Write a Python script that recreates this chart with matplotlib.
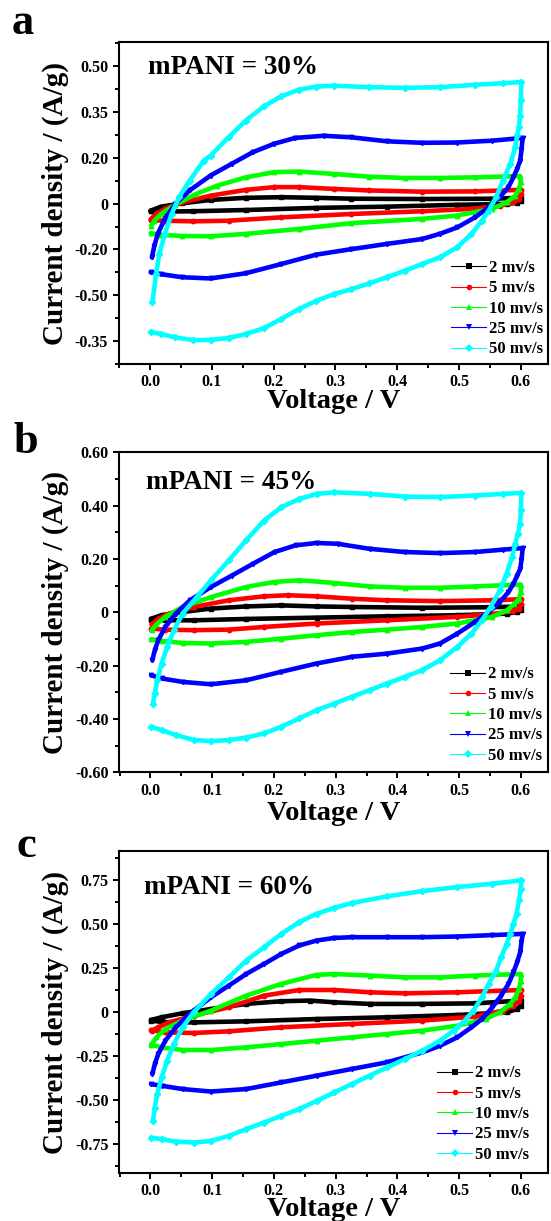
import matplotlib
matplotlib.use("Agg")
import matplotlib.pyplot as plt
from matplotlib.lines import Line2D
from matplotlib.ticker import FixedLocator, MultipleLocator

plt.rcParams['font.family'] = ['Liberation Serif', 'DejaVu Serif']
plt.rcParams['font.weight'] = 'bold'

# ---------------- data ----------------
rates = ['2 mv/s', '5 mv/s', '10 mv/s', '25 mv/s', '50 mv/s']
colors = ['#000000', '#FF0000', '#00FF00', '#0000FF', '#00FFFF']
markers = ['s', 'o', '^', 'v', 'D']
panel_letters = ['a', 'b', 'c']
panel_titles = ['mPANI = 30%', 'mPANI = 45%', 'mPANI = 60%']
x_ticks = [0.0, 0.1, 0.2, 0.3, 0.4, 0.5, 0.6]
x_ticklabels = ['0.0', '0.1', '0.2', '0.3', '0.4', '0.5', '0.6']

a_yticks = [0.45, 0.30, 0.15, 0.0, -0.15, -0.30, -0.45]
a_yticklabels = ['0.50', '0.35', '0.20', '0', '-0.20', '-0.50', '-0.35']
b_yticks = [0.6, 0.4, 0.2, 0.0, -0.2, -0.4, -0.6]
b_yticklabels = ['0.60', '0.40', '0.20', '0', '-0.20', '-0.40', '-0.60']
c_yticks = [0.75, 0.5, 0.25, 0.0, -0.25, -0.5, -0.75]
c_yticklabels = ['0.75', '0.50', '0.25', '0', '-0.25', '-0.50', '-0.75']

# panel a (mPANI = 30%)
a_v_2 = [0.001, 0.018, 0.052, 0.098, 0.155, 0.212, 0.269, 0.326, 0.44, 0.554, 0.6,
         0.6, 0.594, 0.577, 0.497, 0.383, 0.269, 0.155, 0.07, 0.024, 0.001]
a_i_2 = [-0.023, -0.010, 0.001, 0.012, 0.019, 0.021, 0.019, 0.016, 0.015, 0.016, 0.019,
         0.010, 0.003, -0.001, -0.004, -0.010, -0.014, -0.021, -0.025, -0.026, -0.025]
a_v_5 = [0.002, 0.0097, 0.024, 0.052, 0.098, 0.155, 0.201, 0.241, 0.298, 0.355, 0.44, 0.526, 0.6,
         0.6, 0.597, 0.588, 0.566, 0.526, 0.44, 0.326, 0.212, 0.127, 0.07, 0.024, 0.001]
a_i_5 = [-0.050, -0.034, -0.017, 0.004, 0.026, 0.045, 0.054, 0.054, 0.048, 0.043, 0.039, 0.040, 0.045,
         0.032, 0.015, 0.004, -0.007, -0.017, -0.025, -0.034, -0.045, -0.056, -0.058, -0.056, -0.054]
a_v_10 = [0.002, 0.007, 0.018, 0.041, 0.075, 0.109, 0.155, 0.201, 0.241, 0.298, 0.355, 0.412, 0.469, 0.526, 0.599,
          0.6, 0.597, 0.591, 0.577, 0.554, 0.497, 0.44, 0.326, 0.241, 0.155, 0.098, 0.052, 0.018, 0.001]
a_i_10 = [-0.072, -0.056, -0.034, -0.003, 0.032, 0.059, 0.086, 0.103, 0.105, 0.097, 0.088, 0.084, 0.084, 0.086, 0.090,
          0.070, 0.048, 0.026, 0.004, -0.017, -0.039, -0.050, -0.064, -0.083, -0.099, -0.107, -0.106, -0.102, -0.097]
a_v_25 = [0.003, 0.007, 0.0125, 0.024, 0.041, 0.064, 0.098, 0.132, 0.166, 0.201, 0.235, 0.281, 0.326, 0.383, 0.44,
          0.497, 0.554, 0.603,
          0.601, 0.599, 0.594, 0.588, 0.580, 0.566, 0.548, 0.526, 0.497, 0.469, 0.44, 0.383, 0.326, 0.269, 0.212,
          0.155, 0.098, 0.052, 0.018, 0.001]
a_i_25 = [-0.176, -0.138, -0.099, -0.050, -0.001, 0.043, 0.092, 0.130, 0.168, 0.196, 0.215, 0.222, 0.217, 0.204, 0.199,
          0.200, 0.206, 0.215,
          0.174, 0.141, 0.114, 0.086, 0.054, 0.021, -0.012, -0.045, -0.078, -0.099, -0.116, -0.132, -0.149, -0.167,
          -0.198, -0.228, -0.245, -0.241, -0.231, -0.225]
a_v_50 = [0.004, 0.0097, 0.015, 0.024, 0.035, 0.047, 0.064, 0.087, 0.098, 0.127, 0.155, 0.184, 0.212, 0.241, 0.269,
          0.298, 0.355, 0.412, 0.469, 0.526, 0.571, 0.601,
          0.600, 0.599, 0.597, 0.594, 0.591, 0.583, 0.571, 0.560, 0.548, 0.537, 0.520, 0.497, 0.469, 0.440, 0.412,
          0.383, 0.355, 0.326, 0.298, 0.269, 0.241, 0.212, 0.184, 0.155, 0.127, 0.098, 0.070, 0.041, 0.018, 0.001]
a_i_50 = [-0.323, -0.231, -0.165, -0.099, -0.034, 0.021, 0.075, 0.141, 0.157, 0.217, 0.272, 0.318, 0.351, 0.373, 0.383,
          0.386, 0.381, 0.379, 0.381, 0.389, 0.394, 0.398,
          0.338, 0.288, 0.250, 0.223, 0.185, 0.130, 0.075, 0.021, -0.023, -0.056, -0.100, -0.143, -0.176, -0.198,
          -0.220, -0.241, -0.261, -0.280, -0.296, -0.318, -0.345, -0.378, -0.408, -0.427, -0.440, -0.446, -0.447,
          -0.438, -0.427, -0.420]

# panel b (mPANI = 45%)
b_v_2 = [0.001, 0.018, 0.052, 0.098, 0.155, 0.212, 0.269, 0.326, 0.44, 0.554, 0.6,
         0.6, 0.594, 0.577, 0.497, 0.383, 0.269, 0.155, 0.07, 0.024, 0.001]
b_i_2 = [-0.024, -0.011, 0.001, 0.014, 0.022, 0.026, 0.022, 0.020, 0.017, 0.019, 0.022,
         0.010, 0.001, -0.005, -0.011, -0.015, -0.020, -0.025, -0.030, -0.030, -0.027]
b_v_5 = [0.002, 0.0125, 0.03, 0.07, 0.127, 0.184, 0.223, 0.269, 0.326, 0.383, 0.469, 0.554, 0.6,
         0.6, 0.597, 0.588, 0.554, 0.497, 0.383, 0.269, 0.184, 0.127, 0.07, 0.024, 0.001]
b_i_5 = [-0.045, -0.024, -0.005, 0.020, 0.045, 0.060, 0.064, 0.060, 0.051, 0.045, 0.042, 0.045, 0.049,
         0.030, 0.014, 0.005, -0.007, -0.017, -0.030, -0.042, -0.055, -0.065, -0.067, -0.065, -0.061]
b_v_10 = [0.002, 0.0097, 0.024, 0.052, 0.098, 0.155, 0.201, 0.241, 0.298, 0.355, 0.412, 0.469, 0.526, 0.6,
          0.6, 0.597, 0.589, 0.577, 0.554, 0.497, 0.44, 0.383, 0.326, 0.269, 0.212, 0.155, 0.098, 0.052, 0.018, 0.001]
b_i_10 = [-0.067, -0.045, -0.017, 0.020, 0.057, 0.095, 0.114, 0.120, 0.110, 0.097, 0.092, 0.092, 0.097, 0.104,
          0.076, 0.051, 0.030, 0.007, -0.017, -0.042, -0.055, -0.065, -0.074, -0.086, -0.099, -0.111, -0.117,
          -0.115, -0.107, -0.101]
b_v_25 = [0.003, 0.007, 0.0125, 0.024, 0.041, 0.064, 0.098, 0.132, 0.166, 0.201, 0.235, 0.269, 0.303, 0.355, 0.412,
          0.469, 0.526, 0.571, 0.603,
          0.601, 0.599, 0.594, 0.588, 0.580, 0.566, 0.548, 0.526, 0.497, 0.469, 0.44, 0.383, 0.326, 0.269, 0.212,
          0.155, 0.098, 0.052, 0.018, 0.001]
b_i_25 = [-0.180, -0.142, -0.105, -0.055, -0.005, 0.045, 0.095, 0.138, 0.182, 0.226, 0.251, 0.260, 0.257, 0.238,
          0.226, 0.222, 0.226, 0.235, 0.241,
          0.195, 0.163, 0.138, 0.107, 0.076, 0.039, 0.001, -0.036, -0.080, -0.117, -0.136, -0.155, -0.167, -0.192,
          -0.223, -0.255, -0.270, -0.261, -0.248, -0.236]
b_v_50 = [0.004, 0.007, 0.011, 0.018, 0.027, 0.038, 0.052, 0.075, 0.098, 0.127, 0.155, 0.184, 0.212, 0.241, 0.269,
          0.298, 0.355, 0.412, 0.469, 0.526, 0.571, 0.601,
          0.600, 0.599, 0.595, 0.591, 0.586, 0.577, 0.566, 0.551, 0.537, 0.520, 0.497, 0.469, 0.440, 0.412, 0.383,
          0.355, 0.326, 0.298, 0.269, 0.241, 0.212, 0.184, 0.155, 0.127, 0.098, 0.070, 0.041, 0.018, 0.001]
b_i_50 = [-0.342, -0.304, -0.255, -0.192, -0.130, -0.067, -0.005, 0.057, 0.120, 0.195, 0.270, 0.344, 0.394, 0.425,
          0.444, 0.450, 0.444, 0.434, 0.432, 0.438, 0.444, 0.448,
          0.382, 0.332, 0.294, 0.257, 0.207, 0.145, 0.082, 0.020, -0.030, -0.080, -0.130, -0.180, -0.217, -0.242,
          -0.267, -0.292, -0.317, -0.342, -0.367, -0.398, -0.429, -0.454, -0.470, -0.479, -0.483, -0.479, -0.460,
          -0.442, -0.429]

# panel c (mPANI = 60%)
c_v_2 = [0.001, 0.018, 0.052, 0.098, 0.155, 0.212, 0.258, 0.298, 0.355, 0.44, 0.526, 0.6,
         0.6, 0.594, 0.577, 0.497, 0.383, 0.269, 0.155, 0.07, 0.024, 0.001]
c_i_2 = [-0.047, -0.032, -0.009, 0.015, 0.044, 0.059, 0.063, 0.053, 0.044, 0.044, 0.047, 0.063,
         0.034, 0.015, -0.004, -0.019, -0.032, -0.042, -0.055, -0.061, -0.061, -0.051]
c_v_5 = [0.002, 0.0125, 0.03, 0.07, 0.127, 0.184, 0.241, 0.298, 0.355, 0.412, 0.497, 0.6,
         0.6, 0.597, 0.588, 0.571, 0.526, 0.44, 0.326, 0.212, 0.127, 0.07, 0.024, 0.001]
c_i_5 = [-0.108, -0.089, -0.061, -0.023, 0.025, 0.091, 0.123, 0.123, 0.110, 0.104, 0.110, 0.123,
         0.091, 0.063, 0.034, 0.006, -0.028, -0.051, -0.070, -0.089, -0.112, -0.121, -0.118, -0.104]
c_v_10 = [0.002, 0.0097, 0.024, 0.052, 0.098, 0.155, 0.212, 0.269, 0.298, 0.355, 0.412, 0.469, 0.526, 0.6,
          0.6, 0.597, 0.591, 0.583, 0.566, 0.543, 0.497, 0.44, 0.383, 0.326, 0.269, 0.212, 0.155, 0.098, 0.052,
          0.018, 0.001]
c_i_10 = [-0.184, -0.146, -0.099, -0.051, 0.006, 0.091, 0.158, 0.209, 0.214, 0.205, 0.195, 0.195, 0.205, 0.214,
          0.177, 0.129, 0.082, 0.044, -0.004, -0.042, -0.080, -0.108, -0.127, -0.146, -0.165, -0.184, -0.203,
          -0.218, -0.218, -0.203, -0.188]
c_v_25 = [0.003, 0.007, 0.0125, 0.024, 0.041, 0.07, 0.098, 0.127, 0.155, 0.184, 0.212, 0.241, 0.269, 0.298, 0.326,
          0.383, 0.44, 0.497, 0.554, 0.603,
          0.601, 0.599, 0.594, 0.588, 0.580, 0.568, 0.554, 0.537, 0.520, 0.497, 0.469, 0.44, 0.383, 0.326, 0.269,
          0.212, 0.155, 0.098, 0.052, 0.018, 0.001]
c_i_25 = [-0.355, -0.298, -0.241, -0.165, -0.089, 0.006, 0.082, 0.148, 0.214, 0.271, 0.328, 0.376, 0.404, 0.419,
          0.423, 0.423, 0.423, 0.427, 0.435, 0.442,
          0.395, 0.338, 0.281, 0.224, 0.158, 0.091, 0.025, -0.042, -0.089, -0.146, -0.194, -0.232, -0.288, -0.326,
          -0.364, -0.402, -0.440, -0.454, -0.440, -0.421, -0.412]
c_v_50 = [0.004, 0.007, 0.011, 0.018, 0.027, 0.038, 0.052, 0.07, 0.098, 0.127, 0.155, 0.184, 0.212, 0.241, 0.269,
          0.298, 0.326, 0.383, 0.44, 0.497, 0.554, 0.601,
          0.600, 0.597, 0.593, 0.588, 0.583, 0.577, 0.568, 0.560, 0.548, 0.537, 0.523, 0.509, 0.491, 0.469, 0.440,
          0.412, 0.383, 0.355, 0.326, 0.298, 0.269, 0.241, 0.212, 0.184, 0.155, 0.127, 0.098, 0.070, 0.041, 0.018,
          0.001]
c_i_50 = [-0.621, -0.545, -0.469, -0.374, -0.279, -0.184, -0.089, -0.004, 0.101, 0.195, 0.290, 0.366, 0.442, 0.509,
          0.556, 0.590, 0.617, 0.655, 0.685, 0.708, 0.727, 0.746,
          0.698, 0.632, 0.556, 0.499, 0.442, 0.385, 0.309, 0.233, 0.158, 0.082, 0.006, -0.051, -0.108, -0.165,
          -0.222, -0.270, -0.317, -0.364, -0.412, -0.459, -0.507, -0.554, -0.592, -0.630, -0.668, -0.706, -0.735,
          -0.744, -0.738, -0.725, -0.716]

panels = [
    dict(v=[a_v_2, a_v_5, a_v_10, a_v_25, a_v_50], i=[a_i_2, a_i_5, a_i_10, a_i_25, a_i_50],
         yticks=a_yticks, yticklabels=a_yticklabels, yminor=0.075, ylim=(-0.525, 0.528)),
    dict(v=[b_v_2, b_v_5, b_v_10, b_v_25, b_v_50], i=[b_i_2, b_i_5, b_i_10, b_i_25, b_i_50],
         yticks=b_yticks, yticklabels=b_yticklabels, yminor=0.1, ylim=(-0.6, 0.6)),
    dict(v=[c_v_2, c_v_5, c_v_10, c_v_25, c_v_50], i=[c_i_2, c_i_5, c_i_10, c_i_25, c_i_50],
         yticks=c_yticks, yticklabels=c_yticklabels, yminor=0.125, ylim=(-0.917, 0.913)),
]

# ---------------- layout (pixel based) ----------------
W, H = 551, 1221
fig = plt.figure(figsize=(W / 100, H / 100), dpi=100)

axes_px = [(118.5, 548, 42.3, 364.0), (119, 548, 452.3, 772.3), (119, 548, 851.0, 1173.0)]
letter_px = [(12, 34), (13, 453), (16, 857)]
title_px = [(148, 74), (146, 489), (144, 894)]
legend_px = [(451, 308.7), (450, 715), (437, 1114)]
xlabel_base = [408, 820, 1216]

def fx(x):
    return x / W

def fy(y):
    return 1 - y / H

serif = ['Liberation Serif', 'DejaVu Serif']

for k, p in enumerate(panels):
    l, r, t, b = axes_px[k]
    ax = fig.add_axes([fx(l), fy(b), (r - l) / W, (b - t) / H])
    for s in range(5):
        ax.plot(p['v'][s], p['i'][s], color=colors[s], lw=3.3,
                solid_joinstyle='round', solid_capstyle='round', zorder=2 + s)
        ax.plot(p['v'][s], p['i'][s], ls='none', marker=markers[s], ms=3.2,
                color=colors[s], zorder=2 + s)
    ax.set_xlim(-0.051, 0.644)
    ax.set_ylim(*p['ylim'])
    ax.xaxis.set_major_locator(FixedLocator(x_ticks))
    ax.set_xticklabels(x_ticklabels)
    ax.xaxis.set_minor_locator(MultipleLocator(0.05))
    ax.yaxis.set_major_locator(FixedLocator(p['yticks']))
    ax.set_yticklabels(p['yticklabels'])
    ax.yaxis.set_minor_locator(MultipleLocator(p['yminor']))
    ax.tick_params(which='major', direction='out', length=4.5, width=1.4,
                   labelsize=11.5, pad=3)
    ax.tick_params(which='minor', direction='out', length=3, width=1.4)
    for sp in ax.spines.values():
        sp.set_linewidth(1.5)
    for lab in ax.get_xticklabels() + ax.get_yticklabels():
        lab.set_fontweight('bold')
        lab.set_family(serif)

    ax.set_ylabel('Current density / (A/g)', fontsize=21, fontweight='bold',
                  family=serif, va='center')
    ax.yaxis.set_label_coords((55 - l) / (r - l), 0.5)
    ax.set_xlabel('Voltage / V', fontsize=20.5, fontweight='bold', family=serif, va='baseline')
    ax.xaxis.set_label_coords(0.5, -(xlabel_base[k] - b) / (b - t))

    ax.text((title_px[k][0] - l) / (r - l), (b - title_px[k][1]) / (b - t), panel_titles[k],
            transform=ax.transAxes, fontsize=19.5, fontweight='bold', family=serif,
            ha='left', va='baseline')

    fig.text(fx(letter_px[k][0]), fy(letter_px[k][1]), panel_letters[k], fontsize=32,
             fontweight='bold', family=serif, ha='left', va='baseline')

    handles = [Line2D([], [], color=colors[s], lw=0.8, marker=markers[s], ms=4,
                      markeredgewidth=0) for s in range(5)]
    leg = ax.legend(handles, rates, loc='center left',
                    bbox_to_anchor=(fx(legend_px[k][0]), fy(legend_px[k][1])),
                    bbox_transform=fig.transFigure, frameon=False, borderpad=0,
                    borderaxespad=0, handlelength=2.1, handletextpad=0.2,
                    labelspacing=0.26, prop=dict(family=serif, weight='bold', size=12))

fig.savefig('out.png', dpi=100)
